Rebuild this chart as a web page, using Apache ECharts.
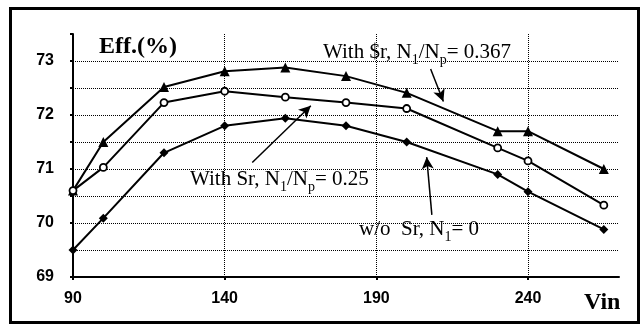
<!DOCTYPE html>
<html>
<head>
<meta charset="utf-8">
<script src="https://cdn.jsdelivr.net/npm/echarts@6/dist/echarts.min.js"></script>
<style>
  html, body { margin: 0; padding: 0; background: #fff; }
  #main { width: 642px; height: 327px; }
</style>
</head>
<body>
<div id="main"></div>
<script>
// Vin values and efficiency (%) for the three windings
const vin = [90, 100, 120, 140, 160, 180, 200, 230, 240, 265]
const effSr0367 = [70.6, 71.5, 72.52, 72.81, 72.88, 72.72, 72.41, 71.7, 71.7, 71.0]
const effSr025 = [70.6, 71.03, 72.23, 72.44, 72.33, 72.23, 72.12, 71.39, 71.15, 70.33]
const effNoSr = [69.5, 70.09, 71.3, 71.8, 71.94, 71.8, 71.5, 70.9, 70.58, 69.88]

// arrows pointing from the labels to the curves: [x0, y0, x1, y1] in data units
const arrows = [
  [207.9, 72.85, 212.1, 72.25],
  [149.1, 71.12, 168.4, 72.17],
  [208.3, 70.15, 206.6, 71.22]
]

const pair = (ys) => vin.map((x, i) => [x, ys[i]])

const chartDom = document.getElementById('main')
const myChart = echarts.init(chartDom)

const serif = '"Liberation Serif", "Times New Roman", serif'
const sans = '"Liberation Sans", Arial, sans-serif'

const lineSeries = (name, ys, symbol, size, fill) => ({
  name,
  type: 'line',
  data: pair(ys),
  symbol,
  symbolSize: size,
  showAllSymbol: true,
  lineStyle: { color: '#000', width: 2 },
  itemStyle: { color: fill, borderColor: '#000', borderWidth: fill === '#fff' ? 1.8 : 0 },
  z: 3
})

// rich text with subscripts (padding on top pushes the small text down)
const richStyle = {
  m: { fontFamily: serif, fontSize: 21, lineHeight: 26, color: '#000' },
  s: { fontFamily: serif, fontSize: 14, padding: [15, 0, 0, 0], color: '#000' }
}

const option = {
  animation: false,
  grid: { left: 73, right: 23, top: 34, bottom: 50 },
  xAxis: {
    type: 'value',
    min: 90,
    max: 270,
    interval: 50,
    axisLine: { lineStyle: { color: '#000', width: 2 } },
    axisTick: { show: true, length: 3, lineStyle: { color: '#000', width: 2 } },
    axisLabel: {
      color: '#000',
      fontFamily: sans,
      fontWeight: 'bold',
      fontSize: 16,
      margin: 14,
      showMaxLabel: false
    },
    splitLine: {
      show: true,
      showMinLine: false,
      showMaxLine: false,
      lineStyle: { color: '#000', type: [1, 1], width: 1 }
    }
  },
  yAxis: {
    type: 'value',
    min: 69,
    max: 73.5,
    interval: 0.5,
    axisLine: { show: true, lineStyle: { color: '#000', width: 2 } },
    axisTick: { show: true, length: 3, lineStyle: { color: '#000', width: 2 } },
    axisLabel: {
      color: '#000',
      fontFamily: sans,
      fontWeight: 'bold',
      fontSize: 16,
      margin: 19,
      formatter: (v) => (Number.isInteger(v) ? String(v) : '')
    },
    splitLine: {
      show: true,
      showMinLine: false,
      showMaxLine: false,
      lineStyle: { color: '#000', type: [1, 1], width: 1 }
    }
  },
  series: [
    lineSeries('With Sr, N1/Np= 0.367', effSr0367, 'triangle', 10, '#000'),
    lineSeries('With Sr, N1/Np= 0.25', effSr025, 'circle', 7, '#fff'),
    lineSeries('w/o Sr, N1= 0', effNoSr, 'diamond', 9, '#000'),
    {
      type: 'line',
      data: [],
      markLine: {
        silent: true,
        symbol: ['none', 'arrow'],
        symbolSize: [9, 12],
        label: { show: false },
        lineStyle: { color: '#000', width: 1.5, type: 'solid' },
        data: arrows.map((a) => [{ coord: [a[0], a[1]] }, { coord: [a[2], a[3]] }])
      }
    }
  ],
  graphic: [
    {
      type: 'rect',
      shape: { x: 10.5, y: 8.5, width: 628, height: 314 },
      style: { fill: 'none', stroke: '#000', lineWidth: 3 },
      silent: true
    },
    {
      type: 'text',
      left: 99,
      top: 35,
      style: { text: 'Eff.(%)', font: 'bold 24px ' + serif, fill: '#000' }
    },
    {
      type: 'text',
      left: 584,
      top: 291,
      style: { text: 'Vin', font: 'bold 24px ' + serif, fill: '#000' }
    },
    {
      type: 'text',
      left: 323,
      top: 42,
      style: { text: '{m|With $r, N}{s|1}{m|/N}{s|p}{m|= 0.367}', rich: richStyle }
    },
    {
      type: 'text',
      left: 190,
      top: 169,
      style: { text: '{m|With Sr, N}{s|1}{m|/N}{s|p}{m|= 0.25}', rich: richStyle }
    },
    {
      type: 'text',
      left: 359,
      top: 219,
      style: { text: '{m|w/o  Sr, N}{s|1}{m|= 0}', rich: richStyle }
    }
  ]
}

option && myChart.setOption(option)
</script>
</body>
</html>
